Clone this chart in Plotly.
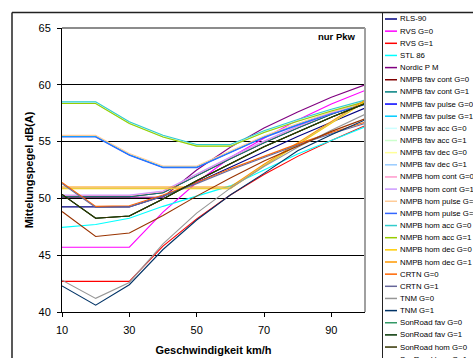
import plotly.graph_objects as go

# ---------------- data ----------------
speeds = [10, 20, 30, 40, 50, 60, 70, 80, 90, 100]
x_tick_vals = [10, 30, 50, 70, 90]
y_tick_vals = [40, 45, 50, 55, 60, 65]

rls_90 = [49.25, 49.25, 49.25, 50.2, 51.4, 52.75, 54.1, 55.45, 56.7, 57.95]
rvs_g0 = [45.7, 45.7, 45.7, 48.8, 51.4, 53.6, 55.3, 56.9, 58.3, 59.5]
rvs_g1 = [42.7, 42.7, 42.7, 45.8, 48.2, 50.3, 52.1, 53.7, 55.1, 56.4]
stl_86 = [47.45, 47.7, 48.25, 49.3, 50.2, 51.1, 52.5, 53.9, 55.1, 56.3]
nordic_pm = [50.1, 50.1, 50.1, 50.1, 52.5, 54.5, 56.2, 57.6, 58.9, 60.0]
nmpb_fav_cont_g0 = [50.15, 50.15, 50.15, 50.5, 52.0, 53.5, 54.9, 56.2, 57.4, 58.4]
nmpb_fav_cont_g1 = [50.15, 50.15, 50.15, 50.5, 52.0, 53.5, 54.9, 56.2, 57.4, 58.4]
nmpb_fav_pulse_g0 = [55.45, 55.45, 53.85, 52.75, 52.75, 54.1, 55.4, 56.5, 57.5, 58.3]
nmpb_fav_pulse_g1 = [55.45, 55.45, 53.85, 52.75, 52.75, 54.1, 55.4, 56.5, 57.5, 58.3]
nmpb_fav_acc_g0 = [58.5, 58.5, 56.7, 55.5, 54.7, 54.7, 55.9, 56.9, 57.8, 58.6]
nmpb_fav_acc_g1 = [58.35, 58.35, 56.6, 55.4, 54.6, 54.6, 55.8, 56.8, 57.7, 58.5]
nmpb_fav_dec_g0 = [50.9, 50.9, 50.9, 50.9, 50.9, 50.9, 52.9, 54.8, 56.7, 58.55]
nmpb_fav_dec_g1 = [50.9, 50.9, 50.9, 50.9, 50.9, 50.9, 52.9, 54.8, 56.7, 58.55]
nmpb_hom_cont_g0 = [50.25, 50.25, 50.25, 50.6, 52.1, 53.6, 55.0, 56.3, 57.5, 58.5]
nmpb_hom_cont_g1 = [50.3, 50.3, 50.3, 50.65, 52.15, 53.65, 55.05, 56.35, 57.55, 58.55]
nmpb_hom_pulse_g0 = [55.55, 55.55, 53.95, 52.85, 52.85, 54.2, 55.5, 56.6, 57.6, 58.4]
nmpb_hom_pulse_g1 = [55.4, 55.4, 53.8, 52.7, 52.7, 54.05, 55.35, 56.45, 57.45, 58.25]
nmpb_hom_acc_g0 = [58.5, 58.5, 56.75, 55.55, 54.75, 54.75, 55.95, 56.95, 57.85, 58.65]
nmpb_hom_acc_g1 = [58.35, 58.35, 56.6, 55.4, 54.6, 54.6, 55.8, 56.8, 57.7, 58.5]
nmpb_hom_dec_g0 = [50.85, 50.85, 50.85, 50.85, 50.85, 50.85, 52.85, 54.75, 56.65, 58.5]
nmpb_hom_dec_g1 = [51.0, 51.0, 51.0, 51.0, 51.0, 51.0, 53.0, 54.9, 56.8, 58.65]
crtn_g0 = [51.4, 49.3, 49.35, 50.3, 51.4, 52.6, 53.7, 54.8, 55.8, 56.7]
crtn_g1 = [51.3, 49.2, 49.25, 50.2, 51.3, 52.5, 53.6, 54.7, 55.7, 56.6]
tnm_g0 = [42.8, 41.2, 42.6, 46.0, 48.7, 50.9, 52.8, 54.5, 56.0, 57.4]
tnm_g1 = [42.3, 40.6, 42.4, 45.5, 48.1, 50.3, 52.2, 54.2, 55.6, 56.9]
sonroad_fav_g0 = [50.35, 48.25, 48.45, 49.95, 51.55, 53.05, 54.55, 55.85, 57.15, 58.35]
sonroad_fav_g1 = [50.35, 48.25, 48.45, 49.95, 51.55, 53.05, 54.55, 55.85, 57.15, 58.35]
sonroad_hom_g0 = [50.35, 48.25, 48.45, 49.95, 51.55, 53.05, 54.55, 55.85, 57.15, 58.35]
sonroad_hom_g1 = [48.85, 46.65, 46.95, 48.5, 50.2, 51.8, 53.3, 54.6, 55.9, 57.0]

series_names = [
    "RLS-90", "RVS G=0", "RVS G=1", "STL 86", "Nordic P M",
    "NMPB fav cont G=0", "NMPB fav cont G=1", "NMPB fav pulse G=0", "NMPB fav pulse G=1",
    "NMPB fav acc G=0", "NMPB fav acc G=1", "NMPB fav dec G=0", "NMPB fav dec G=1",
    "NMPB hom cont G=0", "NMPB hom cont G=1", "NMPB hom pulse G=0", "NMPB hom pulse G=1",
    "NMPB hom acc G=0", "NMPB hom acc G=1", "NMPB hom dec G=0", "NMPB hom dec G=1",
    "CRTN G=0", "CRTN G=1", "TNM G=0", "TNM G=1",
    "SonRoad fav G=0", "SonRoad fav G=1", "SonRoad hom G=0", "SonRoad hom G=1",
]
series_values = [
    rls_90, rvs_g0, rvs_g1, stl_86, nordic_pm,
    nmpb_fav_cont_g0, nmpb_fav_cont_g1, nmpb_fav_pulse_g0, nmpb_fav_pulse_g1,
    nmpb_fav_acc_g0, nmpb_fav_acc_g1, nmpb_fav_dec_g0, nmpb_fav_dec_g1,
    nmpb_hom_cont_g0, nmpb_hom_cont_g1, nmpb_hom_pulse_g0, nmpb_hom_pulse_g1,
    nmpb_hom_acc_g0, nmpb_hom_acc_g1, nmpb_hom_dec_g0, nmpb_hom_dec_g1,
    crtn_g0, crtn_g1, tnm_g0, tnm_g1,
    sonroad_fav_g0, sonroad_fav_g1, sonroad_hom_g0, sonroad_hom_g1,
]
series_colors = [
    "#000080", "#FF00FF", "#FF0000", "#00FFFF", "#800080",
    "#800000", "#008080", "#0000FF", "#00CCFF",
    "#CCFFFF", "#CCFFCC", "#FFFF99", "#99CCFF",
    "#FF99CC", "#CC99FF", "#FFCC99", "#3366FF",
    "#33CCCC", "#99CC00", "#FFCC00", "#FF9900",
    "#FF6600", "#666699", "#969696", "#003366",
    "#339966", "#003300", "#333300", "#993300",
]

# ---------------- layout geometry (pixels) ----------------
W_FIG, H_FIG = 473, 358
L, T, PW, PH = 62, 28, 303, 284
FONT = "Arial, 'Liberation Sans', sans-serif"


def px_x(px):
    return (px - L) / PW


def px_y(py):
    return 1 - (py - T) / PH


fig = go.Figure()
for name, vals, col in zip(series_names, series_values, series_colors):
    fig.add_trace(go.Scatter(x=speeds, y=vals, mode="lines", name=name,
                             line=dict(color=col, width=1.1), showlegend=False,
                             hoverinfo="skip"))

shapes = []
annotations = []

# plot-area border (top and right, grey)
shapes.append(dict(type="line", xref="paper", yref="paper", x0=0, x1=1, y0=1, y1=1,
                   line=dict(color="#8c8c8c", width=2), layer="above"))
shapes.append(dict(type="line", xref="paper", yref="paper", x0=1, x1=1, y0=0, y1=1,
                   line=dict(color="#a0a0a0", width=2), layer="above"))
# outer chart border
shapes.append(dict(type="line", xref="paper", yref="paper",
                   x0=px_x(12), x1=px_x(480), y0=px_y(12.5), y1=px_y(12.5),
                   line=dict(color="#222222", width=1.5)))
shapes.append(dict(type="line", xref="paper", yref="paper",
                   x0=px_x(12), x1=px_x(12), y0=px_y(12.5), y1=px_y(370),
                   line=dict(color="#222222", width=1.5)))
# legend box left edge
shapes.append(dict(type="line", xref="paper", yref="paper",
                   x0=px_x(382.5), x1=px_x(382.5), y0=px_y(12.5), y1=px_y(370),
                   line=dict(color="#222222", width=1)))

# manual legend
for i, (name, col) in enumerate(zip(series_names, series_colors)):
    yc = 19 + 12.15 * i
    shapes.append(dict(type="line", xref="paper", yref="paper",
                       x0=px_x(385), x1=px_x(397), y0=px_y(yc), y1=px_y(yc),
                       line=dict(color=col, width=1.5)))
    annotations.append(dict(text=name, xref="paper", yref="paper", x=px_x(397.5), y=px_y(yc),
                            xanchor="left", yanchor="middle", showarrow=False,
                            font=dict(family=FONT, size=7.8, color="black")))

annotations.append(dict(text="nur Pkw", xref="paper", yref="paper", x=px_x(358), y=px_y(37),
                        xanchor="right", yanchor="middle", showarrow=False,
                        font=dict(family=FONT, size=9.5, color="black", weight="bold")))

fig.update_layout(
    width=W_FIG, height=H_FIG,
    margin=dict(l=L, r=W_FIG - L - PW, t=T, b=H_FIG - T - PH, autoexpand=False),
    paper_bgcolor="white", plot_bgcolor="white",
    font=dict(family=FONT, size=11, color="black"),
    shapes=shapes, annotations=annotations,
    showlegend=False,
    xaxis=dict(range=[10, 100], tickvals=x_tick_vals, showgrid=False, zeroline=False,
               showline=True, linecolor="black", linewidth=1,
               ticks="outside", ticklen=4, tickcolor="black", tickwidth=1,
               ticklabelstandoff=4,
               tickfont=dict(family=FONT, size=11),
               title=dict(text="Geschwindigkeit km/h", standoff=11,
                          font=dict(family=FONT, size=11, weight="bold"))),
    yaxis=dict(range=[40, 65], tickvals=y_tick_vals, showgrid=True, gridcolor="black",
               gridwidth=1, zeroline=False,
               showline=True, linecolor="black", linewidth=1,
               ticks="outside", ticklen=4, tickcolor="black", tickwidth=1,
               ticklabelstandoff=4,
               tickfont=dict(family=FONT, size=11),
               title=dict(text="Mittelungspegel dB(A)", standoff=2,
                          font=dict(family=FONT, size=11, weight="bold"))),
)

fig.write_html(
    "out.html",
    config={"displayModeBar": False, "staticPlot": True},
    post_script="document.body.style.margin='0';document.body.style.overflow='hidden';",
)
